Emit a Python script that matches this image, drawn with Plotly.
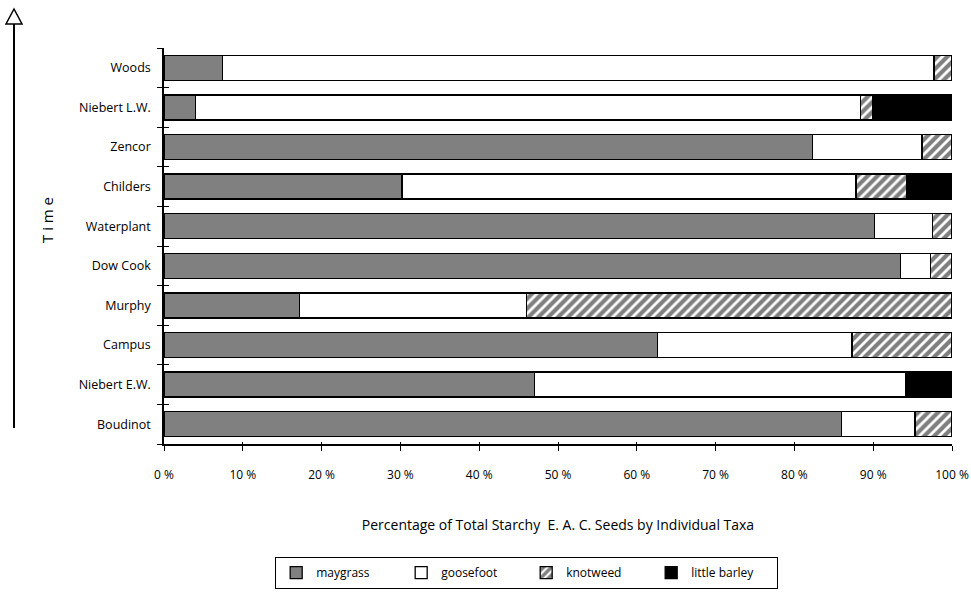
import plotly.graph_objects as go

# Sites, oldest at the bottom
sites = ["Boudinot", "Niebert E.W.", "Campus", "Murphy", "Dow Cook",
         "Waterplant", "Childers", "Zencor", "Niebert L.W.", "Woods"]

# Percentage of total starchy E.A.C. seeds per taxon
maygrass = [86.0, 47.0, 62.6, 17.2, 93.5, 90.2, 30.2, 82.3, 4.0, 7.4]
goosefoot = [9.3, 47.1, 24.7, 28.8, 3.8, 7.3, 57.6, 13.9, 84.4, 90.3]
knotweed = [4.7, 0.0, 12.7, 54.0, 2.7, 2.5, 6.4, 3.8, 1.5, 2.3]
little_barley = [0.0, 5.9, 0.0, 0.0, 0.0, 0.0, 5.8, 0.0, 10.1, 0.0]

x_ticks = [0, 10, 20, 30, 40, 50, 60, 70, 80, 90, 100]
x_tick_text = [f"{v} %" for v in x_ticks]

FONT = "Open Sans"
outline = dict(color="black", width=1.3)

fig = go.Figure()
fig.add_trace(go.Bar(y=sites, x=maygrass, name="maygrass", orientation="h",
                     marker=dict(color="#808080", line=outline)))
fig.add_trace(go.Bar(y=sites, x=goosefoot, name="goosefoot", orientation="h",
                     marker=dict(color="white", line=outline)))
fig.add_trace(go.Bar(y=sites, x=knotweed, name="knotweed", orientation="h",
                     marker=dict(color="white", line=outline,
                                 pattern=dict(shape="/", fgcolor="black",
                                              bgcolor="white", size=7,
                                              solidity=0.6))))
fig.add_trace(go.Bar(y=sites, x=little_barley, name="little barley", orientation="h",
                     marker=dict(color="black", line=outline)))

# invisible trace carrying the overlay axes that give the crossing tick marks
fig.add_trace(go.Scatter(x=[0, 100], y=[sites[0], sites[-1]], xaxis="x2", yaxis="y2",
                         mode="markers", marker=dict(opacity=0), showlegend=False,
                         hoverinfo="skip"))

fig.update_layout(
    barmode="stack",
    bargap=0.37,
    width=971, height=600,
    margin=dict(l=164, r=19, t=48, b=156, autoexpand=False),
    plot_bgcolor="white", paper_bgcolor="white",
    font=dict(family=FONT, size=12, color="black"),
    xaxis=dict(range=[0, 100], tickmode="array", tickvals=x_ticks, ticktext=x_tick_text,
               showgrid=False, zeroline=False, showline=True, linecolor="black",
               linewidth=1.5, ticks="outside", ticklen=5, tickwidth=1.3,
               tickcolor="black", ticklabelstandoff=14, automargin=False,
               tickfont=dict(size=12, family=FONT),
               title=dict(text="Percentage of Total Starchy  E. A. C. Seeds by Individual Taxa",
                          font=dict(size=14, family=FONT), standoff=38)),
    yaxis=dict(type="category", categoryorder="array", categoryarray=sites,
               range=[-0.5, 9.5], showgrid=False, zeroline=False, showline=True,
               linecolor="black", linewidth=1.5, ticks="outside", ticklen=5,
               tickwidth=1.3, tickcolor="black", tickson="boundaries",
               ticklabelstandoff=9, automargin=False,
               tickfont=dict(size=12.5, family=FONT)),
    xaxis2=dict(overlaying="x", range=[0, 100], tickvals=x_ticks, side="bottom",
                showticklabels=False, ticks="inside", ticklen=2, tickwidth=1.3,
                tickcolor="black", showgrid=False, zeroline=False, showline=False),
    yaxis2=dict(overlaying="y", type="category", categoryorder="array",
                categoryarray=sites, range=[-0.5, 9.5], side="left",
                showticklabels=False, ticks="inside", ticklen=5, tickwidth=1.3,
                tickcolor="black", tickson="boundaries", showgrid=False,
                zeroline=False, showline=False),
    legend=dict(orientation="h", x=0.46, xanchor="center", y=-0.285, yanchor="top",
                bordercolor="black", borderwidth=1.2, entrywidth=80,
                font=dict(size=12, family=FONT), traceorder="normal",
                itemclick=False),
    showlegend=True,
)

# Time arrow on the left, in paper coordinates of the fixed-margin plot area
def px_x(p):
    return (p - 164) / 788

def px_y(p):
    return (444 - p) / 396

fig.add_shape(type="line", xref="paper", yref="paper",
              x0=px_x(14), x1=px_x(14), y0=px_y(428), y1=px_y(24),
              line=dict(color="black", width=2))
fig.add_shape(type="path", xref="paper", yref="paper",
              path=f"M {px_x(14)} {px_y(9)} L {px_x(6)} {px_y(24)} L {px_x(22)} {px_y(24)} Z",
              fillcolor="white", line=dict(color="black", width=1.5))
fig.add_annotation(text="T i m e", xref="paper", yref="paper",
                   x=px_x(35), y=px_y(220), showarrow=False, textangle=-90,
                   font=dict(size=15, family=FONT, color="black"))

fig.write_html("out.html")
